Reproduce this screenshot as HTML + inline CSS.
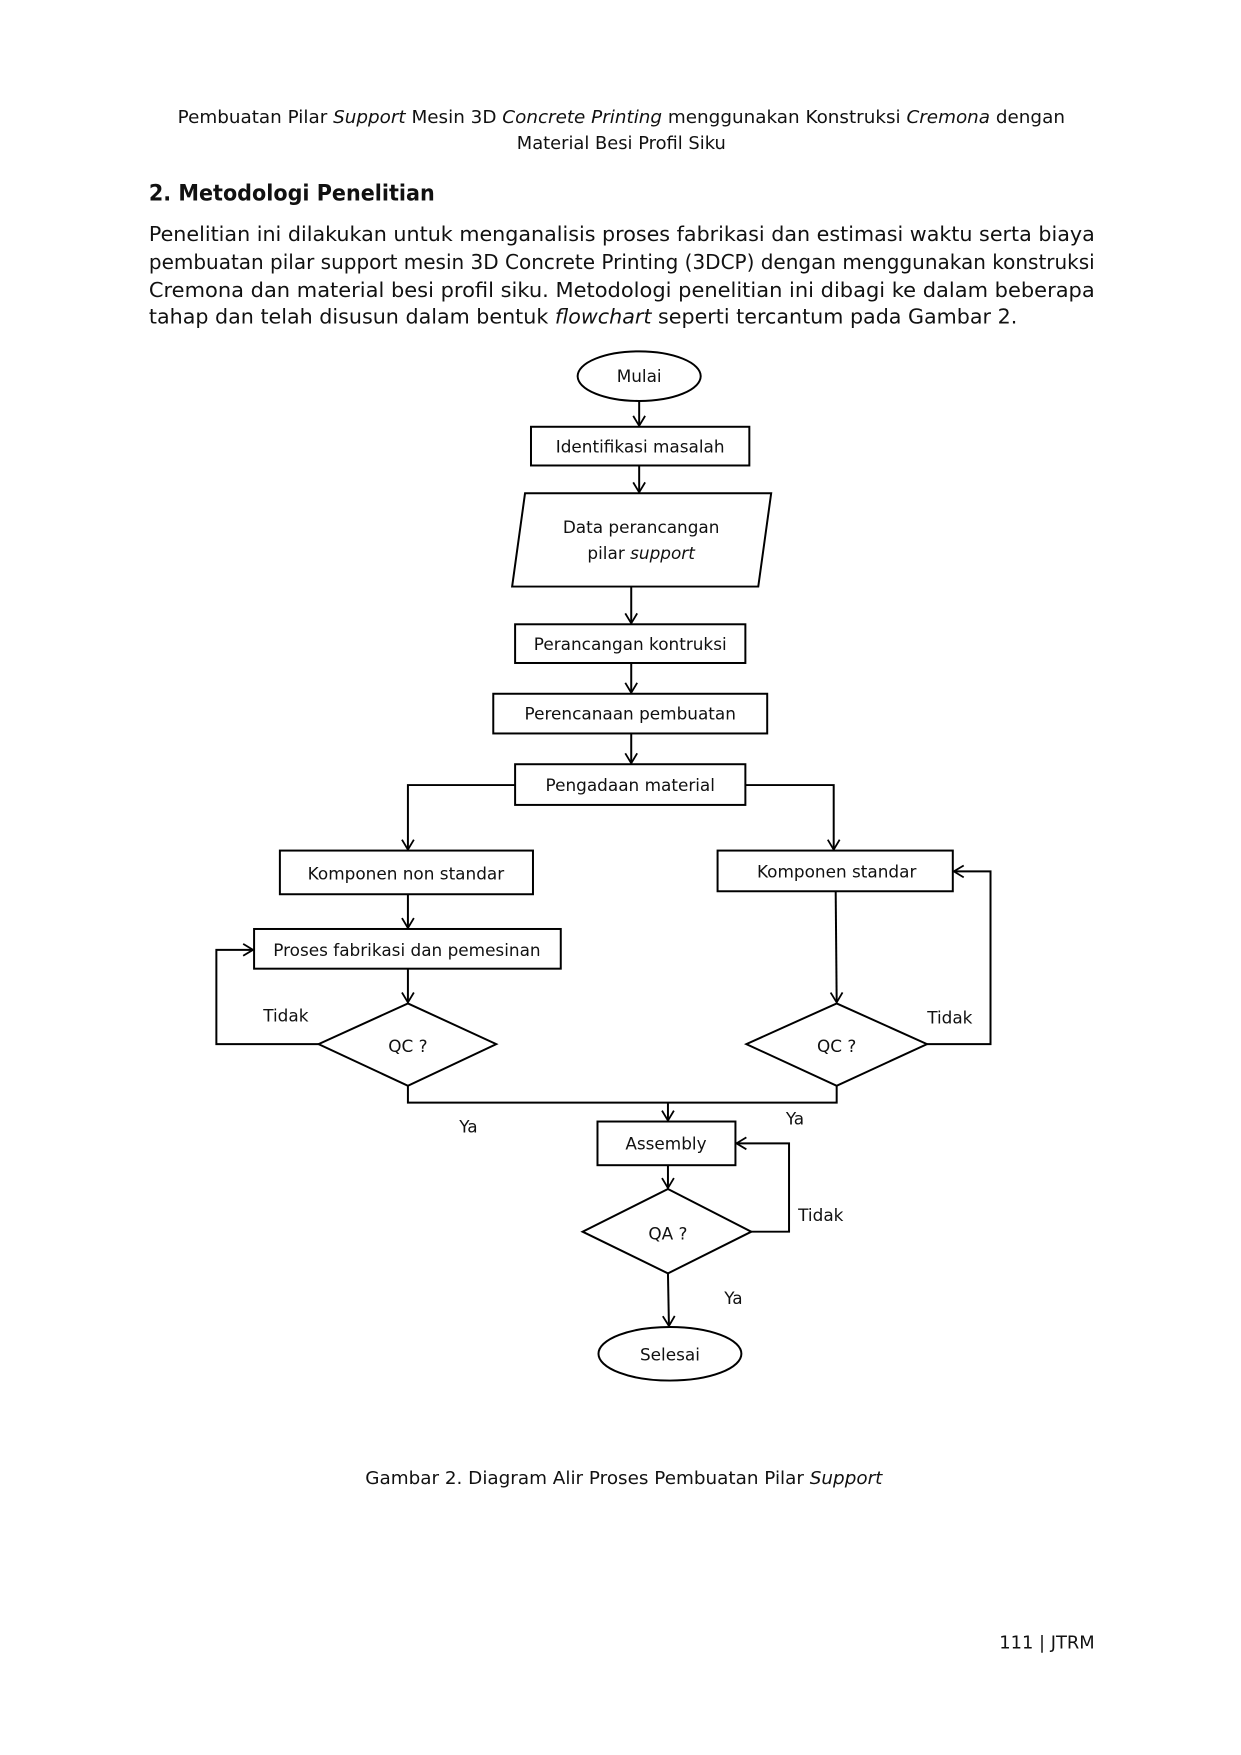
<!DOCTYPE html>
<html><head><meta charset="utf-8"><style>
html,body{margin:0;padding:0;background:#fff}
svg{display:block}
text{font-family:"DejaVu Sans","Liberation Sans",sans-serif;fill:#111}
</style></head><body>
<svg width="1241" height="1755" viewBox="0 0 1241 1755" xmlns="http://www.w3.org/2000/svg">
<defs><marker id="a" markerWidth="14" markerHeight="14" refX="11" refY="7" orient="auto" markerUnits="userSpaceOnUse"><path d="M1,1 L11,7 L1,13" fill="none" stroke="#000" stroke-width="1.8"/></marker></defs>
<g transform="scale(0.9925)">
<g font-size="18">
<text x="179" y="124" textLength="894" lengthAdjust="spacingAndGlyphs">Pembuatan Pilar <tspan font-style="italic">Support</tspan> Mesin 3D <tspan font-style="italic">Concrete Printing</tspan> menggunakan Konstruksi <tspan font-style="italic">Cremona</tspan> dengan</text>
<text x="626" y="150" text-anchor="middle">Material Besi Profil Siku</text>
</g>
<text x="150" y="202" font-size="22" font-weight="bold" textLength="288" lengthAdjust="spacingAndGlyphs">2. Metodologi Penelitian</text>
<g font-size="21">
<text x="150" y="243" textLength="953" lengthAdjust="spacingAndGlyphs">Penelitian ini dilakukan untuk menganalisis proses fabrikasi dan estimasi waktu serta biaya</text>
<text x="150" y="271" textLength="953" lengthAdjust="spacingAndGlyphs">pembuatan pilar support mesin 3D Concrete Printing (3DCP) dengan menggunakan konstruksi</text>
<text x="150" y="299" textLength="953" lengthAdjust="spacingAndGlyphs">Cremona dan material besi profil siku. Metodologi penelitian ini dibagi ke dalam beberapa</text>
<text x="150" y="326" textLength="875" lengthAdjust="spacingAndGlyphs">tahap dan telah disusun dalam bentuk <tspan font-style="italic">flowchart</tspan> seperti tercantum pada Gambar 2.</text>
</g>
<g fill="none" stroke="#000" stroke-width="2">
<ellipse cx="644" cy="379" rx="62" ry="25" fill="#fff"/>
<line x1="644" y1="404" x2="644" y2="429" marker-end="url(#a)"/>
<rect x="535" y="430" width="220" height="39"/>
<line x1="644" y1="469" x2="644" y2="496" marker-end="url(#a)"/>
<polygon points="529,497 777,497 764,591 516,591"/>
<line x1="636" y1="591" x2="636" y2="628" marker-end="url(#a)"/>
<rect x="519" y="629" width="232" height="39"/>
<line x1="636" y1="668" x2="636" y2="698" marker-end="url(#a)"/>
<rect x="497" y="699" width="276" height="40"/>
<line x1="636" y1="739" x2="636" y2="769" marker-end="url(#a)"/>
<rect x="519" y="770" width="232" height="41"/>
<polyline points="519,791 411,791 411,856" marker-end="url(#a)"/>
<polyline points="751,791 840,791 840,856" marker-end="url(#a)"/>
<rect x="282" y="857" width="255" height="44"/>
<rect x="723" y="857" width="237" height="41"/>
<line x1="411" y1="901" x2="411" y2="935" marker-end="url(#a)"/>
<rect x="256" y="936" width="309" height="40"/>
<line x1="411" y1="976" x2="411" y2="1010" marker-end="url(#a)"/>
<polygon points="411,1011 500,1052 411,1094 321,1052"/>
<polyline points="321,1052 218,1052 218,957 255,957" marker-end="url(#a)"/>
<line x1="842" y1="898" x2="843" y2="1010" marker-end="url(#a)"/>
<polygon points="843,1011 934,1052 843,1094 752,1052"/>
<polyline points="934,1052 998,1052 998,878 961,878" marker-end="url(#a)"/>
<polyline points="411,1094 411,1111 843,1111 843,1094"/>
<line x1="673" y1="1111" x2="673" y2="1129" marker-end="url(#a)"/>
<rect x="602" y="1130" width="139" height="44"/>
<line x1="673" y1="1174" x2="673" y2="1197" marker-end="url(#a)"/>
<polygon points="673,1198 757,1241 673,1283 587,1241"/>
<polyline points="757,1241 795,1241 795,1152 742,1152" marker-end="url(#a)"/>
<line x1="673" y1="1283" x2="674" y2="1336" marker-end="url(#a)"/>
<ellipse cx="675" cy="1364" rx="72" ry="27"/>
</g>
<g font-size="17" text-anchor="middle">
<text x="644" y="385">Mulai</text>
<text x="645" y="456">Identifikasi masalah</text>
<text x="646" y="537">Data perancangan</text>
<text x="646" y="563">pilar <tspan font-style="italic">support</tspan></text>
<text x="635" y="655">Perancangan kontruksi</text>
<text x="635" y="725">Perencanaan pembuatan</text>
<text x="635" y="797">Pengadaan  material</text>
<text x="409" y="886">Komponen non standar</text>
<text x="843" y="884">Komponen standar</text>
<text x="410" y="963">Proses fabrikasi dan pemesinan</text>
<text x="411" y="1060">QC ?</text>
<text x="843" y="1060">QC ?</text>
<text x="671" y="1158">Assembly</text>
<text x="673" y="1249">QA ?</text>
<text x="675" y="1371">Selesai</text>
<text x="288" y="1029">Tidak</text>
<text x="957" y="1031">Tidak</text>
<text x="827" y="1230">Tidak</text>
<text x="472" y="1141">Ya</text>
<text x="801" y="1133">Ya</text>
<text x="739" y="1314">Ya</text>
</g>
<text x="368" y="1495" font-size="18" textLength="521" lengthAdjust="spacingAndGlyphs">Gambar 2. Diagram Alir Proses Pembuatan Pilar <tspan font-style="italic">Support</tspan></text>
<text x="1103" y="1661" font-size="18" text-anchor="end">111 | JTRM</text>
</g>
</svg>
</body></html>
